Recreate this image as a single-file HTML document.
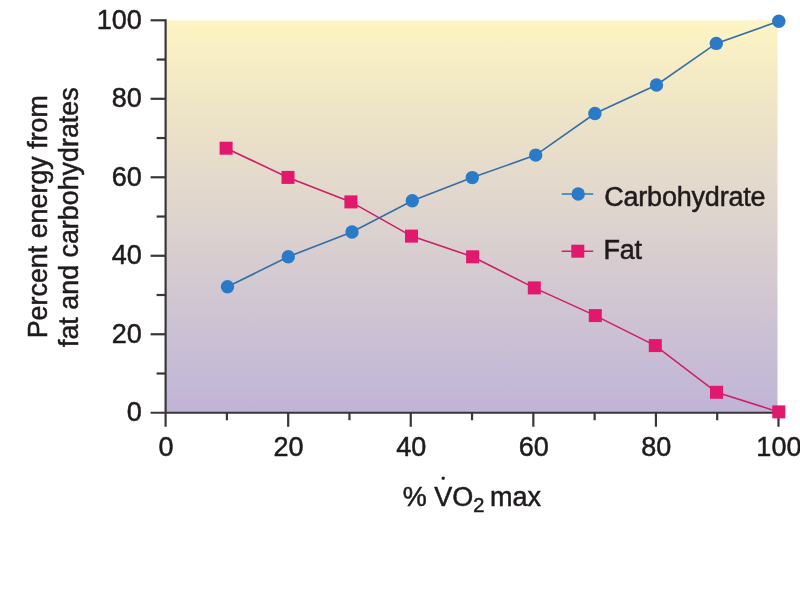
<!DOCTYPE html>
<html><head><meta charset="utf-8"><title>chart</title>
<style>
html,body{margin:0;padding:0;background:#fff;}
body{width:800px;height:599px;overflow:hidden;font-family:"Liberation Sans",sans-serif;}
svg{display:block;filter:blur(0.45px)}
text{font-family:"Liberation Sans",sans-serif;fill:#1f1b1c;stroke:#1f1b1c;stroke-width:0.5px}
</style></head><body>
<svg width="800" height="599" viewBox="0 0 800 599">
<defs>
<linearGradient id="bg" x1="0" y1="0" x2="0" y2="1">
<stop offset="0" stop-color="#fdf5c4"/>
<stop offset="0.25" stop-color="#ede3c7"/>
<stop offset="0.5" stop-color="#ded4ce"/>
<stop offset="0.75" stop-color="#cec4d3"/>
<stop offset="1" stop-color="#c0b4d7"/>
</linearGradient>
<linearGradient id="fade" x1="0" y1="0" x2="0" y2="1">
<stop offset="0" stop-color="#fff" stop-opacity="1"/>
<stop offset="1" stop-color="#fff" stop-opacity="0"/>
</linearGradient>
<linearGradient id="fadeR" x1="1" y1="0" x2="0" y2="0">
<stop offset="0" stop-color="#fff" stop-opacity="1"/>
<stop offset="1" stop-color="#fff" stop-opacity="0"/>
</linearGradient>
</defs>

<rect x="165.60" y="19.50" width="612.30" height="393.25" fill="url(#bg)"/>
<rect x="165.60" y="18.6" width="612.40" height="3" fill="url(#fade)"/>
<rect x="776.8" y="18.6" width="1.6" height="394.15" fill="url(#fadeR)"/>
<g stroke="#3a3638" stroke-width="2.2" fill="none" stroke-linecap="butt">
<path d="M165.60 19.20 V413.85"/>
<path d="M150.60 412.75 H778.50"/>
<path d="M165.60 412.75 V426.75"/>
<path d="M156.60 373.50 H165.60"/>
<path d="M226.89 412.75 V420.25"/>
<path d="M150.60 334.26 H165.60"/>
<path d="M288.18 412.75 V426.75"/>
<path d="M156.60 295.01 H165.60"/>
<path d="M349.47 412.75 V420.25"/>
<path d="M150.60 255.77 H165.60"/>
<path d="M410.76 412.75 V426.75"/>
<path d="M156.60 216.53 H165.60"/>
<path d="M472.05 412.75 V420.25"/>
<path d="M150.60 177.28 H165.60"/>
<path d="M533.34 412.75 V426.75"/>
<path d="M156.60 138.03 H165.60"/>
<path d="M594.63 412.75 V420.25"/>
<path d="M150.60 98.79 H165.60"/>
<path d="M655.92 412.75 V426.75"/>
<path d="M156.60 59.55 H165.60"/>
<path d="M717.21 412.75 V420.25"/>
<path d="M150.60 20.30 H165.60"/>
<path d="M778.50 412.75 V426.75"/>
</g>
<text x="141.80" y="421.45" font-size="27" text-anchor="end">0</text>
<text x="166.00" y="455.60" font-size="27" text-anchor="middle">0</text>
<text x="141.80" y="342.96" font-size="27" text-anchor="end">20</text>
<text x="288.58" y="455.60" font-size="27" text-anchor="middle">20</text>
<text x="141.80" y="264.47" font-size="27" text-anchor="end">40</text>
<text x="411.16" y="455.60" font-size="27" text-anchor="middle">40</text>
<text x="141.80" y="185.98" font-size="27" text-anchor="end">60</text>
<text x="533.74" y="455.60" font-size="27" text-anchor="middle">60</text>
<text x="141.80" y="107.49" font-size="27" text-anchor="end">80</text>
<text x="656.32" y="455.60" font-size="27" text-anchor="middle">80</text>
<text x="141.80" y="29.00" font-size="27" text-anchor="end">100</text>
<text x="778.90" y="455.60" font-size="27" text-anchor="middle">100</text>
<text x="471.9" y="505.6" font-size="27" text-anchor="middle">% VO<tspan font-size="20" dy="6">2</tspan><tspan dy="-6" dx="-1.7"> max</tspan></text>
<rect x="441.7" y="476.7" width="3" height="3" rx="0.8" fill="#1f1b1c"/>
<text transform="translate(47.4 216.7) rotate(-90)" font-size="26.85" text-anchor="middle">Percent energy from</text>
<text transform="translate(77.6 217.2) rotate(-90)" font-size="26.85" text-anchor="middle">fat and carbohydrates</text>
<polyline fill="none" stroke="#d01e66" stroke-width="1.6" points="226.10,148.20 288.00,177.40 350.90,201.90 411.50,236.10 472.60,256.80 534.30,287.90 595.30,315.60 655.30,345.60 716.50,392.30 778.80,411.90"/>
<polyline fill="none" stroke="#346ea6" stroke-width="1.6" points="227.50,286.80 288.30,256.80 352.00,232.00 412.30,200.80 472.30,177.60 535.70,155.10 594.90,113.50 656.50,85.00 716.30,43.40 778.80,21.30"/>
<rect x="219.60" y="141.70" width="13" height="13" fill="#e2186f"/>
<rect x="281.50" y="170.90" width="13" height="13" fill="#e2186f"/>
<rect x="344.40" y="195.40" width="13" height="13" fill="#e2186f"/>
<rect x="405.00" y="229.60" width="13" height="13" fill="#e2186f"/>
<rect x="466.10" y="250.30" width="13" height="13" fill="#e2186f"/>
<rect x="527.80" y="281.40" width="13" height="13" fill="#e2186f"/>
<rect x="588.80" y="309.10" width="13" height="13" fill="#e2186f"/>
<rect x="648.80" y="339.10" width="13" height="13" fill="#e2186f"/>
<rect x="710.00" y="385.80" width="13" height="13" fill="#e2186f"/>
<rect x="772.30" y="405.40" width="13" height="13" fill="#e2186f"/>
<circle cx="227.50" cy="286.80" r="6.7" fill="#2a7ac8"/>
<circle cx="288.30" cy="256.80" r="6.7" fill="#2a7ac8"/>
<circle cx="352.00" cy="232.00" r="6.7" fill="#2a7ac8"/>
<circle cx="412.30" cy="200.80" r="6.7" fill="#2a7ac8"/>
<circle cx="472.30" cy="177.60" r="6.7" fill="#2a7ac8"/>
<circle cx="535.70" cy="155.10" r="6.7" fill="#2a7ac8"/>
<circle cx="594.90" cy="113.50" r="6.7" fill="#2a7ac8"/>
<circle cx="656.50" cy="85.00" r="6.7" fill="#2a7ac8"/>
<circle cx="716.30" cy="43.40" r="6.7" fill="#2a7ac8"/>
<circle cx="778.80" cy="21.30" r="6.7" fill="#2a7ac8"/>
<path d="M561.7 194 H593.2" stroke="#2a7ac8" stroke-width="1.6"/><circle cx="578.2" cy="194" r="6.7" fill="#2a7ac8"/>
<text x="604.2" y="205.6" font-size="27" letter-spacing="-0.2">Carbohydrate</text>
<path d="M561.7 251.2 H593.2" stroke="#e2186f" stroke-width="1.6"/><rect x="571.3" y="244.7" width="13" height="13" fill="#e2186f"/>
<text x="603.6" y="259.2" font-size="27" letter-spacing="-0.3">Fat</text>
</svg></body></html>
